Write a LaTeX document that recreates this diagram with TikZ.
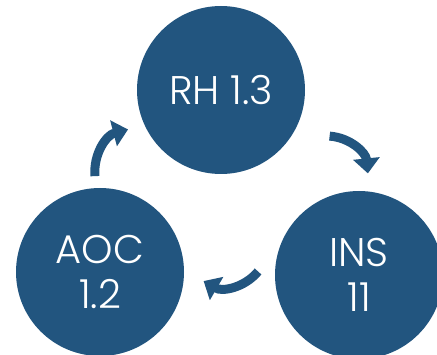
\documentclass[tikz,border=0pt]{standalone}
\usepackage{fontspec}
\setmainfont{Poppins}[UprightFont=* Light]
\usetikzlibrary{arrows.meta}
\usetikzlibrary{calc,positioning}

\definecolor{navy}{HTML}{22557F}

\begin{document}
\begin{tikzpicture}[x=1pt,y=1pt,>={Triangle[width=26pt,length=15pt]},
    stage/.style={circle,fill=navy,minimum size=168pt,inner sep=0pt,
        text=white,align=center,font=\fontsize{40}{45}\selectfont},
    cycle/.style={->,navy,line width=9pt}]

    \useasboundingbox (0,0) rectangle (437,354);

    \node[stage] (rh) at (221,264) {RH 1.3};
    \node[stage] (aoc) at (100,82) {AOC\\1.2};
    \node[stage] (ins) at (359,79) {INS\\11};

    % ends of the arrows, just outside the circles
    \coordinate (aoc-out) at ($(aoc)+(93:96pt)$);
    \coordinate (rh-in) at ($(rh)+(203:101pt)$);
    \coordinate (rh-out) at ($(rh)+(-23:118pt)$);
    \coordinate (ins-in) at ($(ins)+(85:102pt)$);
    \coordinate (ins-out) at ($(ins)+(178:101pt)$);
    \coordinate (aoc-in) at ($(aoc)+(-5:104pt)$);

    \draw[cycle] (aoc-out) to[bend left=40] (rh-in);
    \draw[cycle] (rh-out) to[bend left=40] (ins-in);
    \draw[cycle] (ins-out) to[bend left=40] (aoc-in);

\end{tikzpicture}
\end{document}
